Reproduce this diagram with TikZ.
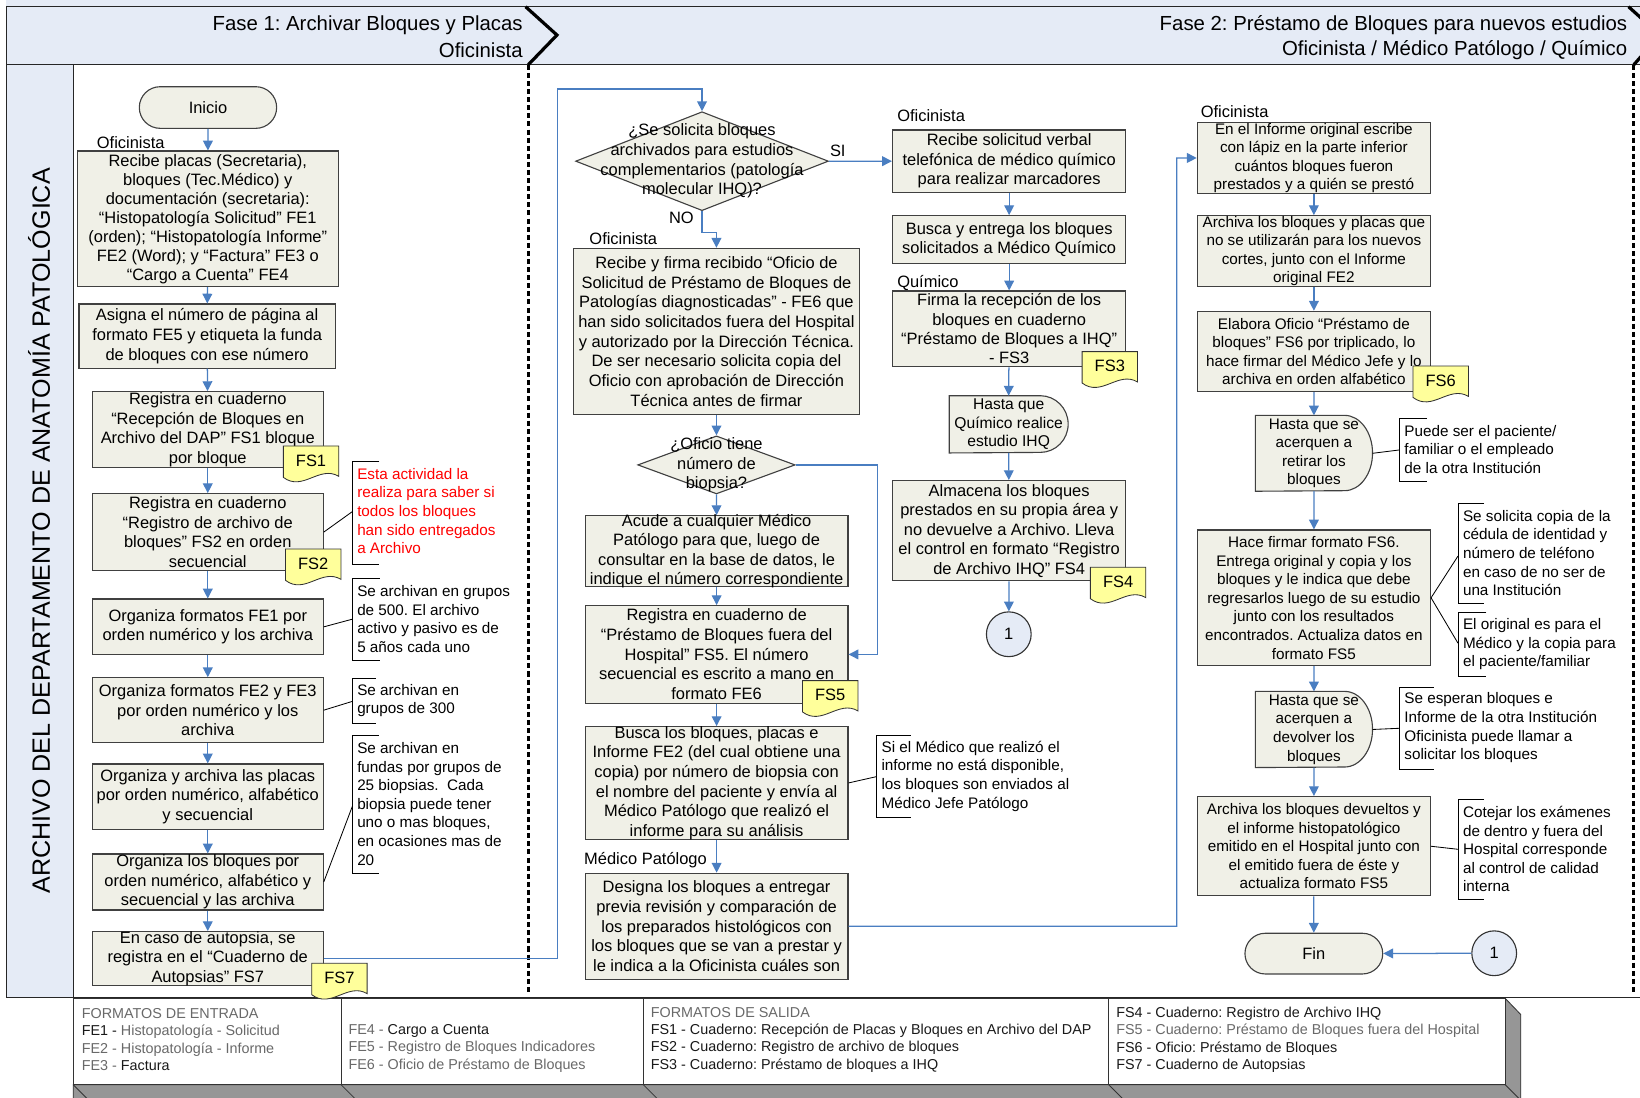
\documentclass[tikz,border=0pt]{standalone}
\usepackage{fontspec}
\setmainfont{Liberation Sans}
\usetikzlibrary{arrows.meta,shapes.geometric}
\frenchspacing

\definecolor{boxfill}{RGB}{240,240,231}
\definecolor{lanefill}{RGB}{229,235,246}
\definecolor{flowblue}{RGB}{74,126,193}
\definecolor{docyellow}{RGB}{255,255,155}
\definecolor{bevelgray}{RGB}{150,150,150}
\definecolor{notegray}{RGB}{105,105,105}

\tikzset{
  boxlook/.style={draw=black!75, line width=0.8pt, fill=boxfill, inner sep=0pt},
  procbox/.style={rectangle, boxlook},
  decision/.style={diamond, boxlook},
  bodytext/.style={font=\fontsize{11.8pt}{14.1pt}\selectfont, align=center, inner sep=0pt},
  smalltext/.style={font=\fontsize{10.95pt}{13.35pt}\selectfont, align=center, inner sep=0pt},
  notetext/.style={font=\fontsize{10.95pt}{13.35pt}\selectfont, align=left, inner sep=0pt, anchor=west},
  rolelabel/.style={font=\fontsize{11.8pt}{14pt}\selectfont, inner sep=0pt, anchor=west},
  phasetext/.style={font=\fontsize{14.6pt}{17pt}\selectfont, inner sep=0pt, anchor=east},
  foottext/.style={font=\fontsize{10.3pt}{12.5pt}\selectfont, align=left, inner sep=0pt, anchor=west, text=black!90},
  flow/.style={draw=flowblue, line width=0.9pt, -{Triangle[length=7pt,width=7pt]}},
  noteline/.style={draw=black, line width=0.6pt},
  docstyle/.style={draw=black!80, line width=0.6pt, fill=docyellow},
  doclabel/.style={font=\fontsize{11.8pt}{14pt}\selectfont, inner sep=0pt},
  phaseline/.style={line width=2.3pt, dash pattern=on 3.6pt off 2.2pt},
  frameline/.style={draw=black!85, line width=0.8pt},
}

% process box: [text style]{name}{x0}{y0}{x1}{y1}{text}
\newcommand\flowbox[7][bodytext]{%
  \node[procbox, minimum width={(#5-#3)*0.75pt}, minimum height={(#6-#4)*0.75pt}] (#2) at ({(#3+#5)/2},{(#4+#6)/2}) {};
  \node[#1] (#2-t) at (#2.center) {#7};}

% delay box (flat left side, rounded right side)
\newcommand\delaybox[7][smalltext]{%
  \node[rectangle, inner sep=0pt, minimum width={(#5-#3)*0.75pt}, minimum height={(#6-#4)*0.75pt}] (#2) at ({(#3+#5)/2},{(#4+#6)/2}) {};
  \filldraw[draw=black!75, line width=0.8pt, fill=boxfill] (#2.north west) -- ([xshift=-20pt]#2.north east)
     arc[start angle=90, end angle=-90, x radius=20pt, y radius={(#6-#4)*0.375pt}] -- (#2.south west) -- cycle;
  \node[#1] (#2-t) at (#2.center) {#7};}

% document symbol: {name}{left}{top}{label}
\newcommand\docsym[4]{%
  \filldraw[docstyle] (#2,#3) -- ({#2+53},#3) -- ({#2+53},{#3+29})
     .. controls ({#2+34.5},{#3+18}) and ({#2+18.5},{#3+44}) .. (#2,{#3+30}) -- cycle;
  \node[doclabel] (#1) at ({#2+26.5},{#3+14}) {#4};}

% annotation bracket: {x}{top}{bottom}{tick}
\newcommand\notebracket[4]{%
  \draw[noteline] ({#1+#4},#2) -- (#1,#2) -- (#1,#3) -- ({#1+#4},#3);}

\begin{document}
\begin{tikzpicture}[x=0.75pt,y=-0.75pt]
\useasboundingbox (0,0) rectangle (1568,1049);
\clip (0,0) rectangle (1568,1049);

% ---------- swimlane frame ----------
\fill[lanefill] (6,0) rectangle (1568,62);
\fill[lanefill] (6,62) rectangle (70,954);
\draw[frameline] (6,6.4) -- (1568,6.4);
\draw[frameline] (6,62) -- (1568,62);
\draw[frameline] (6,6.4) -- (6,954) -- (1568,954);
\draw[frameline] (70,62) -- (70,954);

% phase separators
\draw[line width=2.3pt] (502.5,6.4) -- (532.5,33.5) -- (505,62);
\draw[line width=2.3pt] (1557,6.4) -- (1587,33.5) -- (1562,62);
\draw[phaseline] (505,62) -- (505,950);
\draw[phaseline] (1562,62) -- (1562,950);

\node[phasetext] (ph1a) at (500,23.9) {Fase 1: Archivar Bloques y Placas};
\node[phasetext] (ph1b) at (500,47.8) {Oficinista};
\node[phasetext] (ph2a) at (1556,23.9) {Fase 2: Préstamo de Bloques para nuevos estudios};
\node[phasetext] (ph2b) at (1556,47.8) {Oficinista / Médico Patólogo / Químico};

\node[rotate=90, font=\fontsize{18pt}{20pt}\selectfont, inner sep=0pt] (lane) at (37.5,507.5) {ARCHIVO DEL DEPARTAMENTO DE ANATOMÍA PATOLÓGICA};

% ---------- legend of formats ----------
\filldraw[fill=bevelgray, draw=black!80, line width=0.6pt] (70,1037) -- (1439,1037) -- (1439,954.4) -- (1454,970) -- (1454,1060) -- (70,1060) -- cycle;
\foreach \a/\b in {70/326, 326/615, 615/1060, 1060/1439}
  \filldraw[fill=white, draw=black!80, line width=0.6pt] (\a,954.4) rectangle (\b,1037);
\foreach \a in {70,326,615,1060,1439}
  \draw[black!80, line width=0.6pt] (\a,1037) -- ++(14,14);

\node[foottext] (leg1) at (78,994) {\textcolor{notegray}{FORMATOS DE ENTRADA}\\
  FE1 - \textcolor{notegray}{Histopatología - Solicitud}\\
  \textcolor{notegray}{FE2 - Histopatología - Informe}\\
  \textcolor{notegray}{FE3 -} Factura};
\node[foottext] (leg2) at (333,1002.3) {\textcolor{notegray}{FE4 -} Cargo a Cuenta\\
  \textcolor{notegray}{FE5 - Registro de Bloques Indicadores}\\
  \textcolor{notegray}{FE6 - Oficio de Préstamo de Bloques}};
\node[foottext] (leg3) at (622,994) {\textcolor{notegray}{FORMATOS DE SALIDA}\\
  FS1 - Cuaderno: Recepción de Placas y Bloques en Archivo del DAP\\
  FS2 - Cuaderno: Registro de archivo de bloques\\
  FS3 - Cuaderno: Préstamo de bloques a IHQ};
\node[foottext] (leg4) at (1067,994) {FS4 - Cuaderno: Registro de Archivo IHQ\\
  \textcolor{notegray}{FS5 - Cuaderno: Préstamo de Bloques fuera del Hospital}\\
  FS6 - Oficio: Préstamo de Bloques\\
  FS7 - Cuaderno de Autopsias};

% ---------- phase 1: archive ----------
\node[procbox, rounded corners=14.9pt, minimum width={131.3*0.75pt}, minimum height={39.8*0.75pt}, font=\fontsize{11.8pt}{14pt}\selectfont] (inicio) at (198.85,102.8) {Inicio};
\node[rolelabel] (rol1) at (92.4,136.4) {Oficinista};

\flowbox[bodytext,font=\fontsize{11.8pt}{13.65pt}\selectfont]{A}{73.9}{144.4}{323.4}{274.1}{Recibe placas (Secretaria),\\bloques (Tec.Médico) y\\documentación (secretaria):\\“Histopatología Solicitud” FE1\\(orden); “Histopatología Informe”\\FE2 (Word); y “Factura” FE3 o\\“Cargo a Cuenta” FE4}
\flowbox{B}{75.5}{290.7}{320.6}{352}{Asigna el número de página al\\formato FE5 y etiqueta la funda\\de bloques con ese número}
\flowbox{C}{88.3}{374.4}{309}{447.1}{Registra en cuaderno\\“Recepción de Bloques en\\Archivo del DAP” FS1 bloque\\por bloque}
\flowbox{D}{88.3}{472}{309}{545.5}{Registra en cuaderno\\“Registro de archivo de\\bloques” FS2 en orden\\secuencial}
\flowbox{E}{88.3}{572.7}{309}{626}{Organiza formatos FE1 por\\orden numérico y los archiva}
\flowbox{F}{88.3}{648}{309}{710}{Organiza formatos FE2 y FE3\\por orden numérico y los\\archiva}
\flowbox{G}{88.3}{730.4}{309}{793}{Organiza y archiva las placas\\por orden numérico, alfabético\\y secuencial}
\flowbox{H}{88.3}{816.5}{309}{870}{Organiza los bloques por\\orden numérico, alfabético y\\secuencial y las archiva}
\flowbox{I}{88.3}{890.7}{309}{942.5}{En caso de autopsia, se\\registra en el “Cuaderno de\\Autopsias” FS7}

\docsym{fs1}{270.9}{426.4}{FS1}
\docsym{fs2}{273}{524.9}{FS2}

% notes of phase 1
\notebracket{336.8}{441}{540}{26}
\node[notetext, text=red] (n1) at (341.3,488.6) {Esta actividad la\\realiza para saber si\\todos los bloques\\han sido entregados\\a Archivo};
\notebracket{336.8}{553}{631}{26.5}
\node[notetext] (n2) at (341.3,592) {Se archivan en grupos\\de 500. El archivo\\activo y pasivo es de\\5 años cada uno};
\notebracket{336.8}{648.5}{692}{22.5}
\node[notetext] (n3) at (341.3,669.7) {Se archivan en\\grupos de 300};
\notebracket{336.8}{703.5}{834.7}{25.5}
\node[notetext] (n4) at (341.3,768.6) {Se archivan en\\fundas por grupos de\\25 biopsias.\ \ Cada\\biopsia puede tener\\uno o mas bloques,\\en ocasiones mas de\\20};

\coordinate (n1c) at (336.8,489.2);
\coordinate (n2c) at (336.8,592);
\coordinate (n3c) at (336.8,670.6);
\coordinate (n4c) at (336.8,771.1);

% ---------- phase 2: loans ----------
\node[decision, minimum width={241.7*0.75pt}, minimum height={94.6*0.75pt}] (q1) at (671.2,154.1) {};
\node[bodytext] (q1-t) at (q1.center) {¿Se solicita bloques\\archivados para estudios\\complementarios (patología\\molecular IHQ)?};
\node[bodytext] (si) at (801,144) {SI};
\node[bodytext] (no) at (651.5,207.8) {NO};
\node[rolelabel] (rol2) at (563.3,228.2) {Oficinista};

\flowbox{K}{548.5}{237.4}{821.5}{396.7}{Recibe y firma recibido “Oficio de\\Solicitud de Préstamo de Bloques de\\Patologías diagnosticadas” - FE6 que\\han sido solicitados fuera del Hospital\\y autorizado por la Dirección Técnica.\\De ser necesario solicita copia del\\Oficio con aprobación de Dirección\\Técnica antes de firmar}

\node[decision, minimum width={150.5*0.75pt}, minimum height={55.5*0.75pt}] (q2) at (685,444.5) {};
\node[bodytext] (q2-t) at (q2.center) {¿Oficio tiene\\número de\\biopsia?};

\flowbox{L}{559.5}{493}{810.8}{560.9}{Acude a cualquier Médico\\Patólogo para que, luego de\\consultar en la base de datos, le\\indique el número correspondiente}
\flowbox{M}{559.5}{579}{810.8}{672.4}{Registra en cuaderno de\\“Préstamo de Bloques fuera del\\Hospital” FS5. El número\\secuencial es escrito a mano en\\formato FE6}
\flowbox{N}{559.5}{694.7}{810.8}{802.4}{Busca los bloques, placas e\\Informe FE2 (del cual obtiene una\\copia) por número de biopsia con\\el nombre del paciente y envía al\\Médico Patólogo que realizó el\\informe para su análisis}
\node[rolelabel] (rol3) at (558.3,822.8) {Médico Patólogo};
\flowbox{O}{559.5}{834.9}{810.8}{936.2}{Designa los bloques a entregar\\previa revisión y comparación de\\los preparados histológicos con\\los bloques que se van a prestar y\\le indica a la Oficinista cuáles son}
\docsym{fs5}{767.3}{650.7}{FS5}

\notebracket{838.1}{703.3}{781.7}{32.5}
\node[notetext] (n5) at (842.6,742) {Si el Médico que realizó el\\informe no está disponible,\\los bloques son enviados al\\Médico Jefe Patólogo};
\coordinate (n5c) at (838.1,742.5);

% chemist branch
\node[rolelabel] (rol4) at (857.6,110.6) {Oficinista};
\flowbox[bodytext,font=\fontsize{11.8pt}{13.95pt}\selectfont]{J}{853.3}{124.3}{1076.4}{183.9}{Recibe solicitud verbal\\telefónica de médico químico\\para realizar marcadores}
\flowbox[bodytext,font=\fontsize{11.8pt}{13.95pt}\selectfont]{Q}{853.3}{206.2}{1076.4}{251.7}{Busca y entrega los bloques\\solicitados a Médico Químico}
\node[rolelabel] (rol5) at (857.6,270.9) {Químico};
\flowbox[bodytext,font=\fontsize{11.8pt}{13.95pt}\selectfont]{R}{853.3}{278.2}{1076.4}{350.6}{Firma la recepción de los\\bloques en cuaderno\\“Préstamo de Bloques a IHQ”\\- FS3}
\docsym{fs3}{1034.6}{336.2}{FS3}
\delaybox[bodytext,font=\fontsize{11.2pt}{13.2pt}\selectfont]{S}{907.8}{378.6}{1021}{432.8}{Hasta que\\Químico realice\\estudio IHQ}
\flowbox[bodytext,font=\fontsize{11.8pt}{13.95pt}\selectfont]{T}{853.3}{459.5}{1076.4}{555.4}{Almacena los bloques\\prestados en su propia área y\\no devuelve a Archivo. Lleva\\el control en formato “Registro\\de Archivo IHQ” FS4}
\docsym{fs4}{1042.5}{542.4}{FS4}
\node[circle, draw=black!80, line width=0.8pt, fill=lanefill, minimum size=32.1pt, inner sep=0pt, font=\fontsize{11.8pt}{14pt}\selectfont] (c1) at (964.5,606.4) {1};

% return branch
\node[rolelabel] (rol6) at (1147.8,106.8) {Oficinista};
\flowbox[smalltext]{P}{1144.7}{117.3}{1367.7}{184.8}{En el Informe original escribe\\con lápiz en la parte inferior\\cuántos bloques fueron\\prestados y a quién se prestó}
\flowbox[smalltext]{V}{1144.7}{206.2}{1367.7}{274}{Archiva los bloques y placas que\\no se utilizarán para los nuevos\\cortes, junto con el Informe\\original FE2}
\flowbox[smalltext]{W}{1144.7}{297.6}{1367.7}{374.4}{Elabora Oficio “Préstamo de\\bloques” FS6 por triplicado, lo\\hace firmar del Médico Jefe y lo\\archiva en orden alfabético}
\docsym{fs6}{1351}{350}{FS6}
\delaybox{X}{1200.5}{397.4}{1312}{469.4}{Hasta que se\\acerquen a\\retirar los\\bloques}
\flowbox[smalltext]{Y}{1144.7}{506.7}{1367.7}{636.4}{Hace firmar formato FS6.\\Entrega original y copia y los\\bloques y le indica que debe\\regresarlos luego de su estudio\\junto con los resultados\\encontrados. Actualiza datos en\\formato FS5}
\delaybox{Z}{1200.5}{661.3}{1312}{733.6}{Hasta que se\\acerquen a\\devolver los\\bloques}
\flowbox[smalltext]{AA}{1144.7}{761.6}{1367.7}{856.6}{Archiva los bloques devueltos y\\el informe histopatológico\\emitido en el Hospital junto con\\el emitido fuera de éste y\\actualiza formato FS5}
\node[procbox, rounded corners=14.5pt, minimum width={131.7*0.75pt}, minimum height={38.9*0.75pt}, font=\fontsize{11.8pt}{14pt}\selectfont] (fin) at (1256.15,911.75) {Fin};
\node[circle, draw=black!80, line width=0.8pt, fill=lanefill, minimum size=32.1pt, inner sep=0pt, font=\fontsize{11.8pt}{14pt}\selectfont] (c2) at (1428.6,911.4) {1};

% notes of phase 2
\notebracket{1338}{400}{460.5}{26.5}
\node[notetext] (n6) at (1342.5,429.7) {Puede ser el paciente/\\familiar o el empleado\\de la otra Institución};
\notebracket{1394}{481}{576.8}{25}
\node[notetext] (n7) at (1398.5,528.7) {Se solicita copia de la\\cédula de identidad y\\número de teléfono\\en caso de no ser de\\una Institución};
\notebracket{1394}{585.7}{646.3}{27}
\node[notetext] (n8) at (1398.5,615.8) {El original es para el\\Médico y la copia para\\el paciente/familiar};
\notebracket{1338}{657}{735.5}{33}
\node[notetext] (n9) at (1342.5,696) {Se esperan bloques e\\Informe de la otra Institución\\Oficinista puede llamar a\\solicitar los bloques};
\notebracket{1394}{764}{859.8}{25}
\node[notetext] (n10) at (1398.5,811.8) {Cotejar los exámenes\\de dentro y fuera del\\Hospital corresponde\\al control de calidad\\interna};

\coordinate (n6c) at (1338,430.2);
\coordinate (n7c) at (1394,531.6);
\coordinate (n8c) at (1394,615);
\coordinate (n9c) at (1338,696.3);
\coordinate (n10c) at (1394,812);

% routing points
\coordinate (r1) at (533,85);
\coordinate (r2) at (839.2,625.7);
\coordinate (r3) at (1125,151);
\coordinate (r4) at (671.2,222);

% ---------- connectors ----------
\draw[flow] (inicio) -- (A);
\draw[flow] (A) -- (B);
\draw[flow] (B) -- (C);
\draw[flow] (C) -- (D);
\draw[flow] (D) -- (E);
\draw[flow] (E) -- (F);
\draw[flow] (F) -- (G);
\draw[flow] (G) -- (H);
\draw[flow] (H) -- (I);
\draw[flow] (I.east) -| (r1) -| (q1.north);

\draw[flow] (q1.east) -- (J.west);
\draw[flow] (q1.south) -- (r4) -| (K.north);
\draw[flow] (K) -- (q2);
\draw[flow] (q2.east) -| (r2) -- (M.east);
\draw[flow] (q2.south) -- (L.north);
\draw[flow] (L) -- (M);
\draw[flow] (M) -- (N);
\draw[flow] (N) -- (O);
\draw[flow] (O.east) -| (r3) -- (P.west);

\draw[flow] (J) -- (Q);
\draw[flow] (Q) -- (R);
\draw[flow] (R) -- (S.north);
\draw[flow] (S.south) -- (T);
\draw[flow] (T) -- (c1);

\draw[flow] (P) -- (V);
\draw[flow] (V) -- (W);
\draw[flow] (W) -- (X.north);
\draw[flow] (X.south) -- (Y);
\draw[flow] (Y) -- (Z.north);
\draw[flow] (Z.south) -- (AA);
\draw[flow] (AA) -- (fin);
\draw[flow] (c2) -- (fin);

% annotation leaders
\draw[noteline] (D.east) -- (n1c);
\draw[noteline] (E.east) -- (n2c);
\draw[noteline] (F.east) -- (n3c);
\draw[noteline] (H.east) -- (n4c);
\draw[noteline] (N.east) -- (n5c);
\draw[noteline] (X.east) -- (n6c);
\draw[noteline] (Y.east) -- (n7c);
\draw[noteline] (Y.east) -- (n8c);
\draw[noteline] (Z.east) -- (n9c);
\draw[noteline] (AA.east) -- (n10c);

% documents drawn over the frame
\docsym{fs7}{298}{921}{FS7}
\end{tikzpicture}
\end{document}
